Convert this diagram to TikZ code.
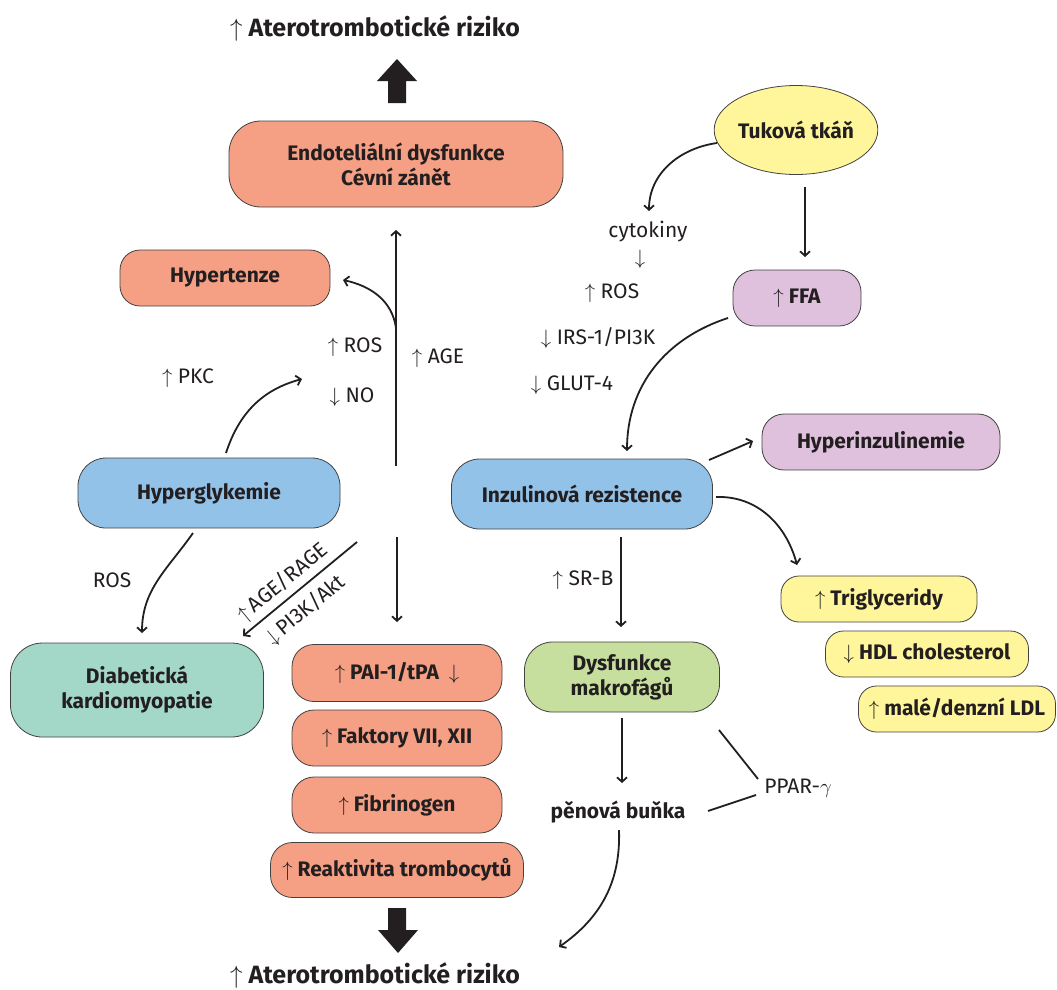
\documentclass[tikz,border=0pt]{standalone}
\usepackage{fontspec}
\setmainfont{Fira Sans}
\usetikzlibrary{arrows.meta,shapes.geometric}
\definecolor{salmon}{HTML}{F5A084}
\definecolor{skyb}{HTML}{93C2E8}
\definecolor{teal1}{HTML}{A3D8C8}
\definecolor{green1}{HTML}{C6DF9E}
\definecolor{yellow1}{HTML}{FFF59A}
\definecolor{lilac}{HTML}{DFC1DD}
\definecolor{ink}{HTML}{231F20}
\newcommand\upar{$\uparrow$}
\newcommand\dnar{$\downarrow$}
\begin{document}
\begin{tikzpicture}[x=1pt,y=-1pt,
  box/.style={draw=ink!85, line width=0.8pt, rounded corners=22pt, inner sep=0pt, align=center,
     text=ink, font=\bfseries\fontsize{21}{25}\selectfont},
  lbl/.style={inner sep=0pt, text=ink, font=\fontsize{21}{25}\selectfont},
  ttl/.style={inner sep=0pt, text=ink, font=\bfseries\fontsize{25}{30}\selectfont},
  conn/.style={draw=ink, line width=1.8pt, -{Straight Barb[length=4.5pt,width=10pt,line width=1.8pt]}},
  plain/.style={draw=ink, line width=1.8pt},
  bigarrow/.style={fill=ink, draw=none}
]
\useasboundingbox (0,0) rectangle (1057,989);

% titles
\node[ttl] (toptitle) at (375,28) {\upar\ Aterotrombotické riziko};
\node[ttl] (bottitle) at (375,975) {\upar\ Aterotrombotické riziko};

% big block arrows
\path[bigarrow] (397,59) -- (417,81) -- (406,81) -- (406,103) -- (388,103) -- (388,81) -- (377,81) -- cycle;
\path[bigarrow] (388,908) -- (406,908) -- (406,930) -- (418,930) -- (398,953) -- (378,930) -- (388,930) -- cycle;

% boxes
\node[box, fill=salmon, minimum width=334pt, minimum height=86pt, rounded corners=32pt] (endo) at (396,164) {Endoteliální dysfunkce\\Cévní zánět};
\node[box, fill=salmon, minimum width=210pt, minimum height=56pt, rounded corners=20pt] (hyper) at (225,278) {Hypertenze};
\node[box, fill=skyb, minimum width=262pt, minimum height=70pt, rounded corners=28pt] (glyk) at (209,493) {Hyperglykemie};
\node[box, fill=teal1, minimum width=253pt, minimum height=94pt, rounded corners=32pt] (kardio) at (137,690) {Diabetická\\kardiomyopatie};
\node[box, fill=salmon, minimum width=210pt, minimum height=57pt, rounded corners=22pt] (pai) at (397,673) {\upar\ PAI-1/tPA \ \dnar};
\node[box, fill=salmon, minimum width=210pt, minimum height=56pt, rounded corners=22pt] (fakt) at (397,738) {\upar\ Faktory VII, XII};
\node[box, fill=salmon, minimum width=210pt, minimum height=56pt, rounded corners=22pt] (fibr) at (397,805) {\upar\ Fibrinogen};
\node[box, fill=salmon, minimum width=253pt, minimum height=55pt, rounded corners=22pt] (reak) at (397,870) {\upar\ Reaktivita trombocytů};

\node[draw=ink!85, line width=0.8pt, fill=yellow1, ellipse, minimum width=159pt, minimum height=89pt, inner sep=0pt,
      text=ink, font=\bfseries\fontsize{21}{25}\selectfont] (tuk) at (796,130) {Tuková tkáň};
\node[box, fill=lilac, minimum width=128pt, minimum height=56pt, rounded corners=22pt] (ffa) at (797,298) {\upar\ FFA};
\node[box, fill=skyb, minimum width=261pt, minimum height=70pt, rounded corners=28pt] (inz) at (582,494) {Inzulinová rezistence};
\node[box, fill=lilac, minimum width=238pt, minimum height=56pt, rounded corners=22pt] (hinz) at (881,442) {Hyperinzulinemie};
\node[box, fill=green1, minimum width=195pt, minimum height=70pt, rounded corners=28pt] (makro) at (622,677) {Dysfunkce\\makrofágů};
\node[box, fill=yellow1, minimum width=196pt, minimum height=46pt, rounded corners=18pt] (tg) at (879,599) {\upar\ Triglyceridy};
\node[box, fill=yellow1, minimum width=203pt, minimum height=46pt, rounded corners=18pt] (hdl) at (927,654) {\dnar\ HDL cholesterol};
\node[box, fill=yellow1, minimum width=197pt, minimum height=46pt, rounded corners=18pt] (ldl) at (957,709) {\upar\ malé/denzní LDL};

% labels
\node[lbl] (ros1) at (355,347) {\upar\ ROS};
\node[lbl] (no) at (352,397) {\dnar\ NO};
\node[lbl] (age) at (438,358) {\upar\ AGE};
\node[lbl] (pkc) at (188,378) {\upar\ PKC};
\node[lbl] (ros2) at (112,580) {ROS};
\node[lbl, rotate=39.5, align=center, font=\fontsize{21}{36}\selectfont] (agerage) at (294,596) {\upar\,AGE/RAGE\\\dnar\,PI3K/Akt};
\node[lbl] (cyto) at (648,232) {cytokiny};
\node[lbl] (cytoar) at (640,259) {\dnar};
\node[lbl] (ros3) at (612,293) {\upar\ ROS};
\node[lbl] (irs) at (598,338) {\dnar\ IRS-1/PI3K};
\node[lbl] (glut) at (572,385) {\dnar\ GLUT-4};
\node[lbl] (srb) at (583,580) {\upar\ SR-B};
\node[lbl, font=\bfseries\fontsize{21}{25}\selectfont] (pena) at (618,812) {pěnová buňka};
\node[lbl] (ppar) at (798,788) {PPAR-$\gamma$};

% free connector ends
\coordinate (vbot) at (396,466);
\coordinate (vtop) at (396,230);
\coordinate (vmid) at (396,328);
\coordinate (hypend) at (343,280);
\coordinate (glykstart) at (226,453);
\coordinate (rosend) at (302,379);
\coordinate (glykbot) at (193,533);
\coordinate (kardend) at (142,633);
\coordinate (diagtop) at (357,542);
\coordinate (diagend) at (243,636);
\coordinate (dtop) at (397,537);
\coordinate (dend) at (397,622);
\coordinate (tukbot) at (805,187);
\coordinate (ffatop) at (805,257);
\coordinate (tukleft) at (717,143);
\coordinate (cytotop) at (649,211);
\coordinate (ffaleft) at (728,318);
\coordinate (inztop) at (627,451);
\coordinate (inzr1) at (709,460);
\coordinate (hinzl) at (753,441);
\coordinate (inzr2) at (716,497);
\coordinate (tgtop) at (797,565);
\coordinate (inzbot) at (621,537);
\coordinate (makrotop) at (621,627);
\coordinate (makrobot) at (622,718);
\coordinate (penatop) at (622,783);
\coordinate (pp1a) at (719,730);
\coordinate (pp1b) at (758,779);
\coordinate (pp2a) at (708,811);
\coordinate (pp2b) at (756,795);
\coordinate (penabot) at (619,830);
\coordinate (botend) at (559,947);

% connectors
\draw[conn] (vbot) -- (vtop);
\draw[conn] (vmid) to[out=98,in=-12] (hypend);
\draw[conn] (glykstart) to[out=72,in=195] (rosend);
\draw[conn] (glykbot) to[out=235,in=90] (kardend);
\draw[conn] (diagtop) -- (diagend);
\draw[conn] (dtop) -- (dend);
\draw[conn] (tukbot) -- (ffatop);
\draw[conn] (tukleft) to[out=188,in=90] (cytotop);
\draw[conn] (ffaleft) to[out=198,in=90] (inztop);
\draw[conn] (inzr1) -- (hinzl);
\draw[conn] (inzr2) to[out=2,in=105] (tgtop);
\draw[conn] (inzbot) -- (makrotop);
\draw[conn] (makrobot) -- (penatop);
\draw[plain] (pp1a) -- (pp1b);
\draw[plain] (pp2a) -- (pp2b);
\draw[conn] (penabot) to[out=-88,in=35] (botend);
\end{tikzpicture}
\end{document}
